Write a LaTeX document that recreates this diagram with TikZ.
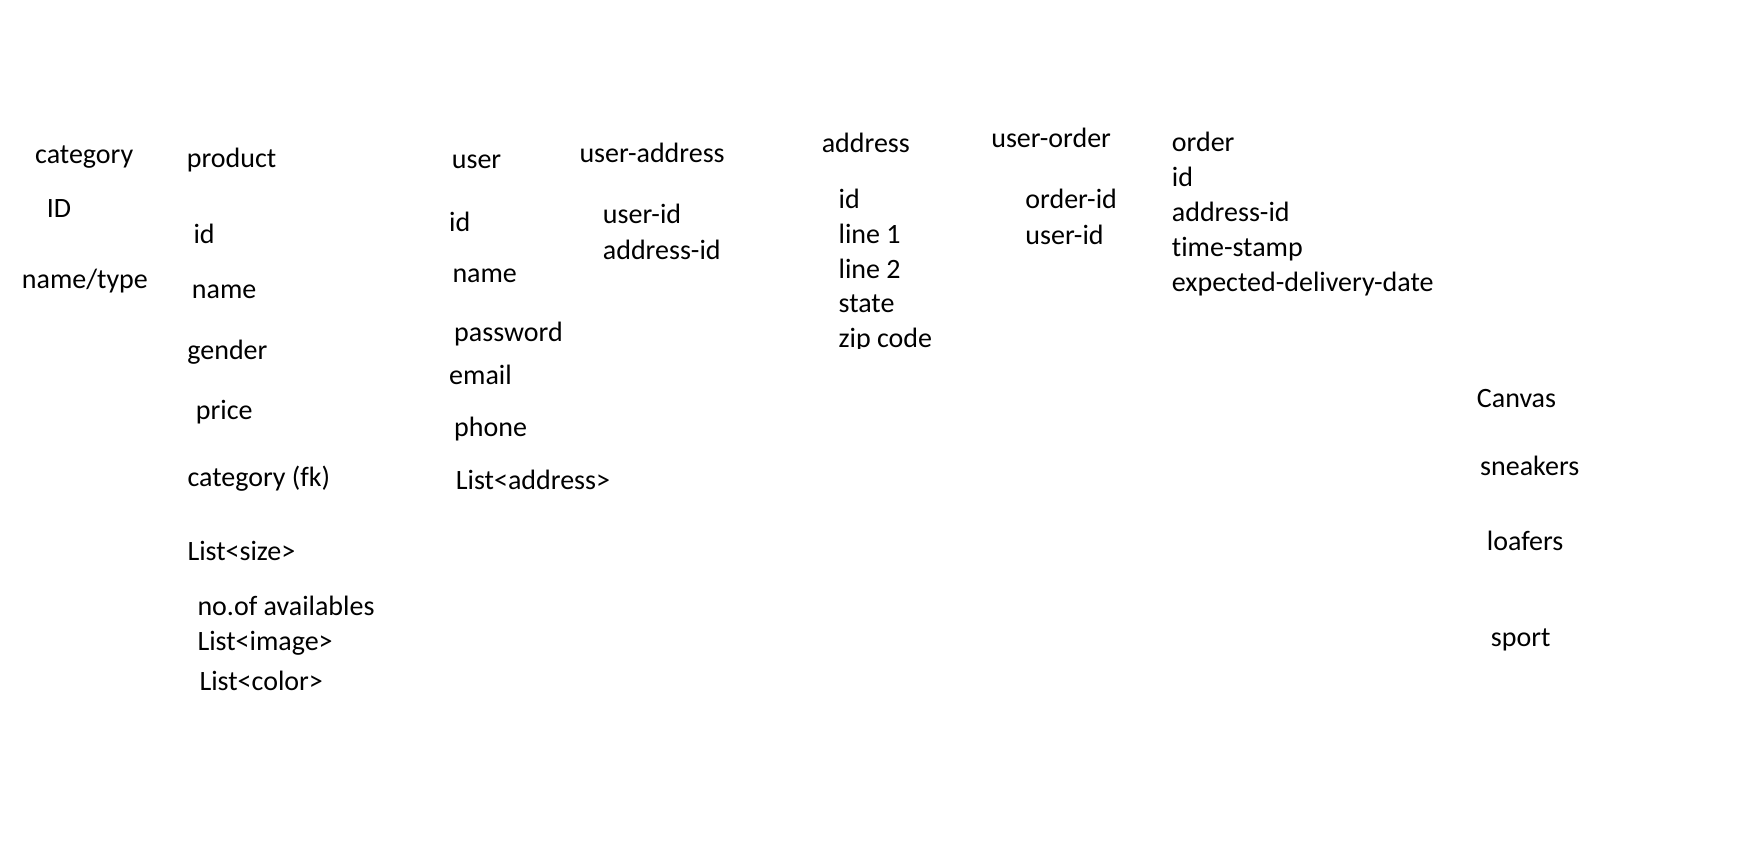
\documentclass[tikz,border=0pt]{standalone}
\usepackage{fontspec}
\setmainfont{Carlito}[Ligatures=NoCommon]
\usepackage{tikz}

\begin{document}
\begin{tikzpicture}[x=1pt,y=-1pt,
  fld/.style={anchor=base west,inner sep=0pt,font=\fontsize{28}{32}\selectfont}]
\useasboundingbox[fill=white] (0,0) rectangle (1747,852);
% category
\node[fld] (cat) at (35,163.8) {category};
\node[fld] (catid) at (46.7,217.7) {ID};
\node[fld] (catname) at (21.7,288.2) {name/type};
% product
\node[fld] (prod) at (186.7,167.8) {product};
\node[fld] (prodid) at (193.3,243.8) {id};
\node[fld] (prodname) at (191.7,298.2) {name};
\node[fld] (prodgender) at (187.2,359.2) {gender};
\node[fld] (prodprice) at (195.7,419.5) {price};
\node[fld] (prodcat) at (187.3,486.5) {category (fk)};
\node[fld] (prodsize) at (187.3,560.4) {List<size>};
\node[fld] (prodavail) at (197.3,615.6) {no.of availables};
\node[fld] (prodimage) at (197.3,650.5) {List<image>};
\node[fld] (prodcolor) at (199.3,690) {List<color>};
% user
\node[fld] (user) at (451.7,168.4) {user};
\node[fld] (userid) at (449,231.1) {id};
\node[fld] (username) at (452.3,282.8) {name};
\node[fld] (userpass) at (454,341.1) {password};
\node[fld] (usermail) at (449,384) {email};
\node[fld] (userphone) at (454,436.2) {phone};
\node[fld] (useraddr) at (455.7,489.5) {List<address>};
% user-address
\node[fld] (ua) at (579.3,162.8) {user-address};
\node[fld] (uauser) at (602.7,223.9) {user-id};
\node[fld] (uaaddr) at (602.7,259.5) {address-id};
% address
\node[fld] (addr) at (821.6,152.2) {address};
\node[fld] (addrid) at (838.4,208.2) {id};
\node[fld] (addrl1) at (838.4,243.9) {line 1};
\node[fld] (addrl2) at (838.4,278.9) {line 2};
\node[fld] (addrstate) at (838.4,312.9) {state};
\begin{scope}
\clip (800,300) rectangle (980,348.8);
\node[fld] (addrzip) at (838.4,347.2) {zip code};
\end{scope}
% user-order
\node[fld] (uo) at (991.1,147.2) {user-order};
\node[fld] (uoorder) at (1025.2,208.2) {order-id};
\node[fld] (uouser) at (1025.2,244) {user-id};
% order
\node[fld] (ord) at (1171.7,151.5) {order};
\node[fld] (ordid) at (1171.7,186.2) {id};
\node[fld] (ordaddr) at (1171.7,221.5) {address-id};
\node[fld] (ordtime) at (1171.7,256.5) {time-stamp};
\node[fld] (orddate) at (1171.7,291.5) {expected-delivery-date};
% types
\node[fld] (canvas) at (1476.7,407.1) {Canvas};
\node[fld] (sneakers) at (1480,475.5) {sneakers};
\node[fld] (loafers) at (1486.7,550.5) {loafers};
\node[fld] (sport) at (1490.7,646.6) {sport};
\end{tikzpicture}
\end{document}
